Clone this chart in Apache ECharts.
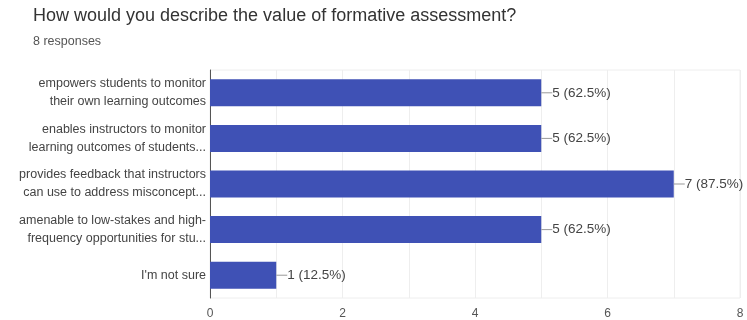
<!DOCTYPE html>
<html>
<head>
<meta charset="utf-8">
<script src="https://cdn.jsdelivr.net/npm/echarts@6/dist/echarts.min.js"></script>
<style>
  html, body { margin: 0; padding: 0; background: #fff; }
  #chart { width: 747px; height: 320px; }
</style>
</head>
<body>
<div id="chart"></div>
<script>
var categories = [
  "empowers students to monitor\ntheir own learning outcomes",
  "enables instructors to monitor\nlearning outcomes of students...",
  "provides feedback that instructors\ncan use to address misconcept...",
  "amenable to low-stakes and high-\nfrequency opportunities for stu...",
  "I'm not sure"
];
var counts = [5, 5, 7, 5, 1];
var totalResponses = 8;
var xTicks = [0, 2, 4, 6, 8];

var myChart = echarts.init(document.getElementById("chart"));
var option = {
  animation: false,
  textStyle: { fontFamily: "'Liberation Sans', Arial, sans-serif" },
  title: {
    text: "How would you describe the value of formative assessment?",
    subtext: totalResponses + " responses",
    left: 28,
    top: 2,
    itemGap: 10,
    textStyle: { fontSize: 18, fontWeight: "normal", color: "#333" },
    subtextStyle: { fontSize: 12.5, color: "#555" }
  },
  grid: {
    left: 210, right: 7, top: 70, bottom: 22, containLabel: false,
    show: true, borderColor: "#eeeeee", borderWidth: 1
  },
  xAxis: {
    type: "value",
    min: 0,
    max: 8,
    interval: 1,
    axisLine: { show: false },
    axisTick: { show: false },
    splitLine: { lineStyle: { color: "#eeeeee" } },
    axisLabel: {
      color: "#555",
      fontSize: 12,
      margin: 10,
      formatter: function (v) { return xTicks.indexOf(v) >= 0 ? v : ""; }
    }
  },
  yAxis: {
    type: "category",
    inverse: true,
    data: categories,
    axisLine: { lineStyle: { color: "#555", width: 1 } },
    axisTick: { show: false },
    axisLabel: { color: "#444", fontSize: 12.5, lineHeight: 18, margin: 4, align: "right" }
  },
  series: [
    {
      type: "bar",
      data: counts,
      barWidth: 27,
      itemStyle: { color: "#3f51b5" },
      label: {
        show: true,
        position: "right",
        distance: 0,
        color: "#444",
        fontSize: 13.5,
        formatter: function (p) {
          var pct = (p.value / totalResponses * 100).toFixed(1);
          return "{l|}{t|" + p.value + " (" + pct + "%)}";
        },
        rich: {
          l: { width: 11, height: 1, backgroundColor: "#999" },
          t: { fontSize: 13.5, color: "#444" }
        }
      }
    }
  ]
};
myChart.setOption(option);
</script>
</body>
</html>
